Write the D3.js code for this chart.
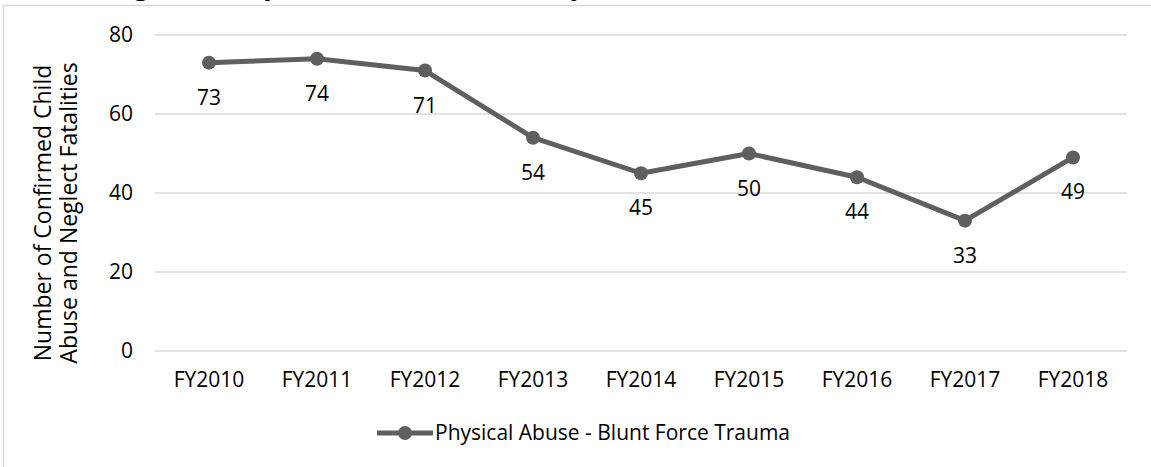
<!DOCTYPE html>
<html lang="en">
<head>
  <meta charset="UTF-8">
  <title>Physical Abuse - Blunt Force Trauma</title>
  <script src="https://d3js.org/d3.v7.min.js"></script>
  <style>
    body { margin: 0; background: #fff; }
    svg { display: block; font-family: "Open Sans", sans-serif; }
  </style>
</head>
<body>
<svg width="1151" height="467"></svg>
<script>
  // Data
  const years = ["FY2010", "FY2011", "FY2012", "FY2013", "FY2014", "FY2015", "FY2016", "FY2017", "FY2018"];
  const fatalities = [73, 74, 71, 54, 45, 50, 44, 33, 49];
  const yTicks = [0, 20, 40, 60, 80];
  const seriesName = "Physical Abuse - Blunt Force Trauma";
  const yTitle = ["Number of Confirmed Child", "Abuse and Neglect  Fatalities"];

  const data = years.map((y, i) => ({ year: y, value: fatalities[i] }));

  const svg = d3.select("svg");
  const lineColor = "#5f5f5f";
  const gridColor = "#d9d9d9";

  // Page title, cut off above the chart frame (only descenders show)
  svg.append("text")
    .attr("x", 112).attr("y", -6)
    .style("font-size", "28px")
    .attr("fill", "#000")
    .text("Figure 6: Physical Abuse Fatalities by Fiscal Year");

  // Chart frame
  svg.append("rect")
    .attr("x", 3.5).attr("y", 5.5)
    .attr("width", 1200).attr("height", 500)
    .attr("fill", "none")
    .attr("stroke", gridColor)
    .attr("stroke-width", 1.5);

  const x = d3.scaleBand().domain(years).range([155, 1127]).padding(0);
  const cx = d => x(d) + x.bandwidth() / 2;
  const y = d3.scaleLinear().domain([0, 80]).range([351, 35]);

  // Gridlines
  svg.append("g")
    .selectAll("line")
    .data(yTicks)
    .join("line")
      .attr("x1", 155).attr("x2", 1127)
      .attr("y1", d => y(d)).attr("y2", d => y(d))
      .attr("stroke", gridColor)
      .attr("stroke-width", 1.5);

  // Y axis labels
  const yAxis = svg.append("g")
    .attr("transform", "translate(133,0)")
    .call(d3.axisLeft(y).tickValues(yTicks).tickSize(0).tickPadding(0));
  yAxis.select(".domain").remove();
  yAxis.selectAll("text")
    .attr("font-family", "Open Sans, sans-serif")
    .style("font-size", "21px")
    .attr("fill", "#000");

  // X axis labels
  const xAxis = svg.append("g")
    .attr("transform", "translate(0,351)")
    .call(d3.axisBottom(x).tickSize(0).tickPadding(21));
  xAxis.select(".domain").remove();
  xAxis.selectAll("text")
    .attr("font-family", "Open Sans, sans-serif")
    .style("font-size", "21px")
    .attr("fill", "#000");

  // Y axis title
  yTitle.forEach((t, i) => {
    svg.append("text")
      .attr("transform", `translate(${51 + i * 26},213) rotate(-90)`)
      .attr("text-anchor", "middle")
      .style("font-size", "23px")
      .attr("fill", "#000")
      .text(t);
  });

  // Line
  svg.append("path")
    .datum(data)
    .attr("fill", "none")
    .attr("stroke", lineColor)
    .attr("stroke-width", 5)
    .attr("stroke-linejoin", "round")
    .attr("d", d3.line().x(d => cx(d.year)).y(d => y(d.value)));

  svg.append("g")
    .selectAll("circle")
    .data(data)
    .join("circle")
      .attr("cx", d => cx(d.year))
      .attr("cy", d => y(d.value))
      .attr("r", 7)
      .attr("fill", lineColor);

  // Data labels
  svg.append("g")
    .selectAll("text")
    .data(data)
    .join("text")
      .attr("x", d => cx(d.year))
      .attr("y", d => y(d.value) + 42)
      .attr("text-anchor", "middle")
      .style("font-size", "21px")
      .attr("fill", "#000")
      .text(d => d.value);

  // Legend
  const legend = svg.append("g").attr("transform", "translate(377,433)");
  legend.append("line")
    .attr("x1", 0).attr("x2", 56)
    .attr("stroke", lineColor).attr("stroke-width", 5);
  legend.append("circle")
    .attr("cx", 28).attr("r", 7).attr("fill", lineColor);
  legend.append("text")
    .attr("x", 58).attr("y", 7)
    .style("font-size", "21px")
    .attr("fill", "#000")
    .text(seriesName);
</script>
</body>
</html>
